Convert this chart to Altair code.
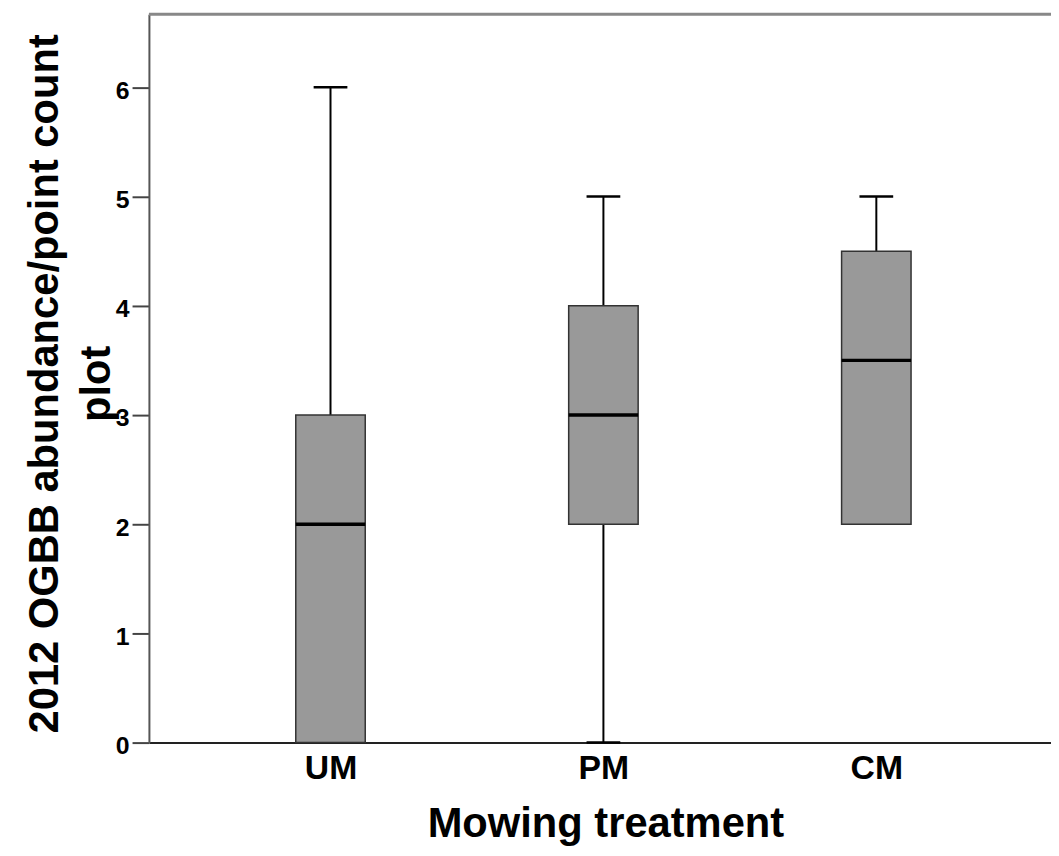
import altair as alt
import pandas as pd

groups = ["UM", "PM", "CM"]
mins = [0, 0, 2]
q1s = [0, 2, 2]
medians = [2, 3, 3.5]
q3s = [3, 4, 4.5]
maxs = [6, 5, 5]

df = pd.DataFrame({"group": groups, "min": mins, "q1": q1s,
                   "median": medians, "q3": q3s, "max": maxs})
low_caps = df[df["min"] < df["q1"]]

W, H = 909, 734
FONT = "Liberation Sans"

xscale = alt.Scale(type="point", domain=groups, padding=0.6527, align=0.5097)
yscale = alt.Scale(domain=[0, 6.67], nice=False, zero=True)

xenc = alt.X("group:N", scale=xscale, sort=groups,
             axis=alt.Axis(title="Mowing treatment", labelAngle=0, ticks=False, tickSize=0,
                           labelFontSize=34, labelFont=FONT, labelFontWeight="bold",
                           labelColor="black", labelBaseline="alphabetic", labelPadding=36,
                           domainColor="#222222", domainWidth=2,
                           titleFontSize=42, titleFont=FONT, titleFontWeight="bold",
                           titleColor="black", titleX=460, titleY=95,
                           titleBaseline="alphabetic", titleAlign="center", grid=False))

base = alt.Chart(df)

whisk_up = base.mark_rule(color="black", strokeWidth=2).encode(
    x=xenc,
    y=alt.Y("q3:Q", scale=yscale,
            axis=alt.Axis(title=["2012 OGBB abundance/point count", "plot"],
                          values=[0, 1, 2, 3, 4, 5, 6], format="d",
                          tickSize=17, tickColor="#444444",
                          tickWidth=2, labelPadding=3, labelFontSize=25, labelFont=FONT,
                          labelFontWeight="bold", labelColor="black", labelOffset=3,
                          domainColor="#555555", domainWidth=2, grid=False,
                          titleFontSize=42, titleFont=FONT, titleFontWeight="bold",
                          titleColor="black", titleAngle=-90, titleX=-92, titleY=372,
                          titleBaseline="alphabetic", titleAlign="center",
                          titleLineHeight=52)),
    y2="max:Q",
)
whisk_low = base.mark_rule(color="black", strokeWidth=2).encode(
    x=alt.X("group:N", scale=xscale, sort=groups),
    y=alt.Y("min:Q", scale=yscale),
    y2="q1:Q",
)
cap_up = base.mark_tick(color="black", size=34, thickness=2.5, opacity=1,
                        orient="horizontal").encode(
    x=alt.X("group:N", scale=xscale, sort=groups),
    y=alt.Y("max:Q", scale=yscale),
)
cap_low = alt.Chart(low_caps).mark_tick(color="black", size=34, thickness=2.5, opacity=1,
                                        orient="horizontal").encode(
    x=alt.X("group:N", scale=xscale, sort=groups),
    y=alt.Y("min:Q", scale=yscale),
)
box = base.mark_bar(size=70, fill="#999999", stroke="#333333", strokeWidth=1.5,
                    opacity=1).encode(
    x=alt.X("group:N", scale=xscale, sort=groups),
    y=alt.Y("q1:Q", scale=yscale),
    y2="q3:Q",
)
med = base.mark_tick(color="black", size=70, thickness=3.5, opacity=1,
                     orient="horizontal").encode(
    x=alt.X("group:N", scale=xscale, sort=groups),
    y=alt.Y("median:Q", scale=yscale),
)
top_border = alt.Chart(pd.DataFrame({"a": [0]})).mark_rule(
    color="#888888", strokeWidth=3).encode(
    x=alt.value(0), x2=alt.value(W), y=alt.value(0))

chart = alt.layer(whisk_up, whisk_low, cap_up, cap_low, box, med, top_border).properties(
    width=W, height=H,
    autosize=alt.AutoSizeParams(type="none"),
    padding={"left": 142, "top": 3, "right": 0, "bottom": 106},
).configure_view(stroke=None).configure(background="white")

chart.save("out.html", embed_options={"renderer": "svg", "actions": False})
